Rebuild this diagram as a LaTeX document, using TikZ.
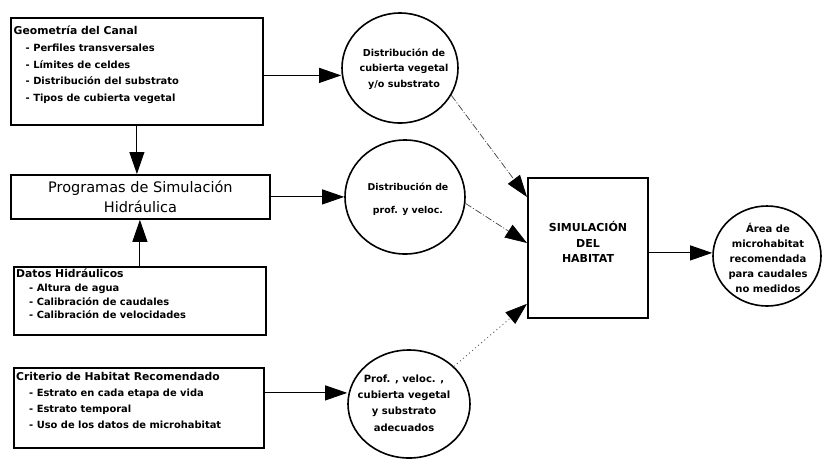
\documentclass[tikz,border=0pt]{standalone}
\usepackage{fontspec}
\setmainfont{DejaVu Sans}
\usetikzlibrary{arrows.meta,shapes.geometric}
\begin{document}
\begin{tikzpicture}[x=1pt,y=-1pt,
  box/.style={draw, line width=1.8pt, rectangle, inner sep=0pt, anchor=north west},
  oval/.style={draw, line width=1.6pt, ellipse, inner sep=0pt},
  tip/.style={-{Triangle[length=22pt,width=15pt,color=black]}},
  arr/.style={tip, line width=0.9pt},
  dashdot/.style={tip, line width=0.7pt, draw=black!75, dash pattern=on 7pt off 2pt on 1pt off 2pt},
  dotline/.style={tip, line width=0.8pt, draw=black!70, dash pattern=on 1pt off 3pt},
  boxtxt/.style={inner sep=0pt, anchor=north west, align=left},
  ctxt/.style={inner sep=0pt, align=center, font=\bfseries}
]
\useasboundingbox[fill=white] (0,0) rectangle (824,459);

% boxes
\node[box, minimum width=252pt, minimum height=107pt] (b1) at (10,17) {};
\node[box, minimum width=259pt, minimum height=44pt] (b2) at (10,174) {};
\node[box, minimum width=252pt, minimum height=68pt] (b3) at (13,266) {};
\node[box, minimum width=250pt, minimum height=80pt] (b4) at (13,367) {};
\node[box, minimum width=120pt, minimum height=140pt] (sim) at (527,177) {};

% box texts
\node[boxtxt, font=\fontsize{9.9}{16.7}\selectfont\bfseries] (t1) at (13.5,26)
 {{\fontsize{10.8}{16.7}\selectfont Geometría del Canal}\\
  \hspace*{12pt}- Perfiles transversales\\
  \hspace*{12pt}- Límites de celdes\\
  \hspace*{12pt}- Distribución del substrato\\
  \hspace*{12pt}- Tipos de cubierta vegetal};
\node[inner sep=0pt, align=center, font=\fontsize{14.5}{20}\selectfont] (t2) at (b2.center)
 {Programas de Simulación\\Hidráulica};
\node[boxtxt, font=\fontsize{9.9}{13.7}\selectfont\bfseries] (t3) at (16,269)
 {{\fontsize{10.8}{13.7}\selectfont Datos Hidráulicos}\\
  \hspace*{13pt}- Altura de agua\\
  \hspace*{13pt}- Calibración de caudales\\
  \hspace*{13pt}- Calibración de velocidades};
\node[boxtxt, font=\fontsize{9.9}{16}\selectfont\bfseries] (t4) at (16,372)
 {{\fontsize{10.8}{16}\selectfont Criterio de Habitat Recomendado}\\
  \hspace*{13pt}- Estrato en cada etapa de vida\\
  \hspace*{13pt}- Estrato temporal\\
  \hspace*{13pt}- Uso de los datos de microhabitat};
\node[inner sep=0pt, align=center, font=\fontsize{11}{15.5}\selectfont\bfseries] (t5) at (588,242)
 {SIMULACIÓN\\DEL\\HABITAT};

% ovals
\node[oval, minimum width=116pt, minimum height=110pt] (c1) at (400,68) {};
\node[oval, minimum width=120pt, minimum height=114pt] (c2) at (405,197) {};
\node[oval, minimum width=122pt, minimum height=108pt] (c3) at (409,404) {};
\node[oval, minimum width=108pt, minimum height=100pt] (out) at (767,256) {};

\node[ctxt, font=\fontsize{9.6}{15.5}\selectfont\bfseries] (c1t) at (404,69)
 {Distribución de\\cubierta vegetal\\y/o substrato};
\node[ctxt, font=\fontsize{9.4}{23}\selectfont\bfseries] (c2t) at (408,199)
 {Distribución de\\prof. y veloc.};
\node[ctxt, font=\fontsize{10}{16.3}\selectfont\bfseries] (c3t) at (404,403)
 {Prof. , veloc. ,\\cubierta vegetal\\y substrato\\adecuados};
\node[ctxt, font=\fontsize{10}{15}\selectfont\bfseries] (outt) at (768,258)
 {Área de\\microhabitat\\recomendada\\para caudales\\no medidos};

% connectors
\draw[arr] (b1.south) -- (b1.south |- b2.north);
\draw[arr] (b3.north) -- (b3.north |- b2.south);
\draw[arr] ([yshift=-4pt]b1.east) -- ([yshift=-4pt]b1.east -| c1.west);
\draw[arr] (b2.east) -- (b2.east -| c2.west);
\draw[arr] ([yshift=15pt]b4.east) -- ([yshift=15pt]b4.east -| c3.west);
\draw[dashdot] (c1.-28) -- ([yshift=-20pt]sim.north west);
\draw[dashdot] (c2.-6) -- ([yshift=-66pt]sim.north west);
\draw[dotline] (c3.40) -- ([yshift=15pt]sim.south west);
\draw[arr] ([yshift=-5pt]sim.east) -- ([yshift=-5pt]sim.east -| out.west);
\end{tikzpicture}
\end{document}
